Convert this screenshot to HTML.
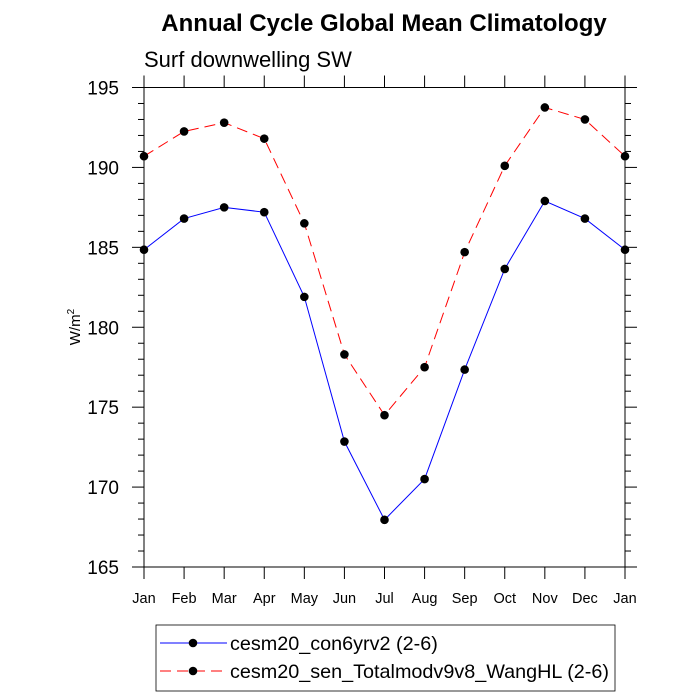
<!DOCTYPE html>
<html><head><meta charset="utf-8"><style>
body{margin:0;background:#fff}
svg{display:block;font-family:"Liberation Sans",sans-serif}
</style></head><body>
<svg id="c" width="700" height="700">
<text x="384" y="31" text-anchor="middle" font-size="24" font-weight="bold">Annual Cycle Global Mean Climatology</text>
<text x="144" y="67" font-size="22">Surf downwelling SW</text>
<text transform="translate(80,327) rotate(-90)" text-anchor="middle" font-size="15">W/m<tspan font-size="10" dy="-6">2</tspan></text>
<g id="axes"></g><g id="series"></g>
<g>
<rect x="156" y="625" width="459" height="66" fill="#fff" stroke="#000" stroke-width="0.8"/>
<g>
<line x1="160" y1="643" x2="227" y2="643" stroke="#00f" stroke-width="1"/>
<circle cx="193" cy="643" r="4.3" fill="#000"/>
<text x="230" y="650" font-size="19.8">cesm20_con6yrv2 (2-6)</text></g>
<g>
<line x1="160" y1="671" x2="227" y2="671" stroke="#f00" stroke-width="1" stroke-dasharray="11,6"/>
<circle cx="193" cy="671" r="4.3" fill="#000"/>
<text x="230" y="678" font-size="19.8">cesm20_sen_Totalmodv9v8_WangHL (2-6)</text></g>
</g>
</svg>
<script>
const months=["Jan","Feb","Mar","Apr","May","Jun","Jul","Aug","Sep","Oct","Nov","Dec","Jan"];
const yTicks=[165,170,175,180,185,190,195];
const control=[184.85,186.8,187.5,187.2,181.9,172.85,167.95,170.5,177.35,183.65,187.9,186.8,184.85];
const sensitivity=[190.7,192.25,192.8,191.8,186.5,178.3,174.5,177.5,184.7,190.1,193.75,193.0,190.7];
const NS="http://www.w3.org/2000/svg";
const L=144,R=625,T=87.5,B=567,ymin=165,ymax=195;
const xs=i=>L+(R-L)*i/(months.length-1);
const ys=v=>B-(v-ymin)/(ymax-ymin)*(B-T);
function mk(tag,attrs,parent){const e=document.createElementNS(NS,tag);for(const k in attrs)e.setAttribute(k,attrs[k]);parent.appendChild(e);return e;}
const ax=document.getElementById('axes');
const frame=mk('rect',{x:L,y:T,width:R-L,height:B-T,fill:'none',stroke:'#000','stroke-width':1},ax);


months.forEach((m,i)=>{const x=xs(i);
mk('line',{x1:x,y1:B,x2:x,y2:B+12,stroke:'#000'},ax);
mk('line',{x1:x,y1:T,x2:x,y2:T-12,stroke:'#000'},ax);
const t=mk('text',{x:x,y:603,'text-anchor':'middle','font-size':14.5},ax);t.textContent=m;

});
for(let v=ymin;v<=ymax;v++){const y=ys(v);const maj=v%5===0;const len=maj?12:6;
mk('line',{x1:L,y1:y,x2:L-len,y2:y,stroke:'#000'},ax);
mk('line',{x1:R,y1:y,x2:R+len,y2:y,stroke:'#000'},ax);}
yTicks.forEach(v=>{const t=mk('text',{x:119,y:ys(v)+7,'text-anchor':'end','font-size':19},ax);t.textContent=v;

});
const sg=document.getElementById('series');
function draw(data,color,dash,name){
const g=mk('g',{},sg);


const a={points:data.map((v,i)=>xs(i)+','+ys(v)).join(' '),fill:'none',stroke:color,'stroke-width':1};
if(dash)a['stroke-dasharray']=dash;
mk('polyline',a,g);
data.forEach((v,i)=>{const c=mk('circle',{cx:xs(i),cy:ys(v),r:4.3,fill:'#000'},g);

});}
draw(control,'#00f',null,'series-control');
draw(sensitivity,'#f00','11,6','series-sensitivity');
</script>
</body></html>
